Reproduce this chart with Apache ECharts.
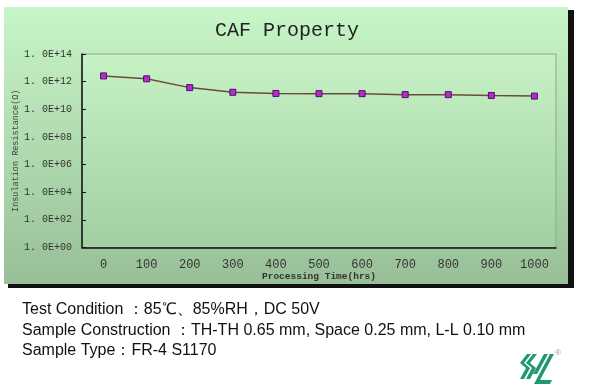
<!DOCTYPE html>
<html><head><meta charset="utf-8">
<script src="https://cdn.jsdelivr.net/npm/echarts@6/dist/echarts.min.js"></script>
<style>html,body{margin:0;padding:0;background:#fff}#c{width:600px;height:392px}</style>
</head><body><div id="c"></div>
<script>
var categories = ['0','100','200','300','400','500','600','700','800','900','1000'];
var resistance = [2.6e12, 1.6e12, 3.7e11, 1.7e11, 1.4e11, 1.35e11, 1.35e11, 1.15e11, 1.15e11, 1.0e11, 9.0e10];
var titleText = 'CAF Property';
var xName = 'Processing Time(hrs)';
var yName = 'Insulation Resistance(\u03A9)';
var notes = [
  'Test Condition \uFF1A85\u2103\u300185%RH\uFF0CDC 50V',
  'Sample Construction \uFF1ATH-TH 0.65 mm, Space 0.25 mm, L-L 0.10 mm',
  'Sample Type\uFF1AFR-4 S1170'
];

var chart = echarts.init(document.getElementById('c'), null, {renderer:'canvas'});
var mono = '"Liberation Mono", "DejaVu Sans Mono", monospace';
var panelGrad = new echarts.graphic.LinearGradient(0,0,0,1,[{offset:0,color:'#c8f6c8'},{offset:1,color:'#98bf98'}]);
var plotGrad = new echarts.graphic.LinearGradient(0,0,0,1,[{offset:0,color:'#c6f2c6'},{offset:1,color:'#a2cfa2'}]);
var logoColor = '#1e9a6e';

var graphics = [
  {type:'rect', z:-10, shape:{x:8,y:10,width:566,height:278}, style:{fill:'#111'}},
  {type:'rect', z:-9, shape:{x:4,y:7,width:564,height:277}, style:{fill:panelGrad}},
  {type:'text', z:5, style:{x:287, y:31, text:titleText, font:'20px '+mono, fill:'#222', align:'center', verticalAlign:'middle'}}
];
notes.forEach(function(t,i){
  graphics.push({type:'text', style:{text:t, x:22, y:302+i*20.5, font:'16px "Liberation Sans", Arial, sans-serif', fill:'#111'}});
});
// logo (decorative)
var logoPolys = [
  [[527,354],[531,354],[524,363],[530,368],[524,379],[520,379],[526,368],[520,363]],
  [[533,354],[537,354],[530,363],[536,368],[530,379],[526,379],[532,368],[526,363]],
  [[544,354],[548,354],[537,374],[533,374]],
  [[550,354],[554,354],[540,380],[552,380],[550,384],[534,384]]
];
logoPolys.forEach(function(p){
  graphics.push({type:'polygon', shape:{points:p}, style:{fill:logoColor}});
});
graphics.push({type:'text', style:{text:'\u00AE', x:555, y:349, font:'8px sans-serif', fill:'#999'}});

chart.setOption({
  animation:false,
  backgroundColor:'#fff',
  graphic: graphics,
  grid:{left:82, right:44, top:54, bottom:144.5, show:true, backgroundColor:plotGrad, borderColor:'#8ba88a', borderWidth:1, containLabel:false, outerBoundsMode:'none'},
  xAxis:{
    type:'category', data:categories, boundaryGap:true,
    name:xName, nameLocation:'middle', nameGap:24, nameMoveOverlap:false,
    nameTextStyle:{fontFamily:mono, fontSize:9.5, fontWeight:'bold', color:'#333'},
    axisLine:{lineStyle:{color:'#111', width:1.5}},
    axisTick:{inside:true, length:4, lineStyle:{color:'#111'}},
    axisLabel:{margin:11, fontFamily:mono, fontSize:12, color:'#333'},
    splitLine:{show:false}
  },
  yAxis:{
    type:'log', logBase:10, min:1, max:1e14, interval:2,
    name:yName, nameLocation:'middle', nameGap:62, nameRotate:90, nameMoveOverlap:false,
    nameTextStyle:{fontFamily:mono, fontSize:8.5, color:'#444'},
    axisLine:{show:true, lineStyle:{color:'#111', width:1.5}},
    axisTick:{show:true, inside:true, length:4, lineStyle:{color:'#111'}},
    axisLabel:{margin:10, fontFamily:mono, fontSize:10, color:'#333',
      formatter:function(v){var e=Math.round(Math.log10(v)); return '1. 0E+' + (e<10?'0':'') + e;}},
    splitLine:{show:false}
  },
  series:[{
    type:'line', data:resistance,
    symbol:'rect', symbolSize:6,
    itemStyle:{color:'#c026c8', borderColor:'#3a1a6a', borderWidth:1},
    lineStyle:{color:'#6b4a3a', width:1.5}
  }]
});
</script></body></html>
